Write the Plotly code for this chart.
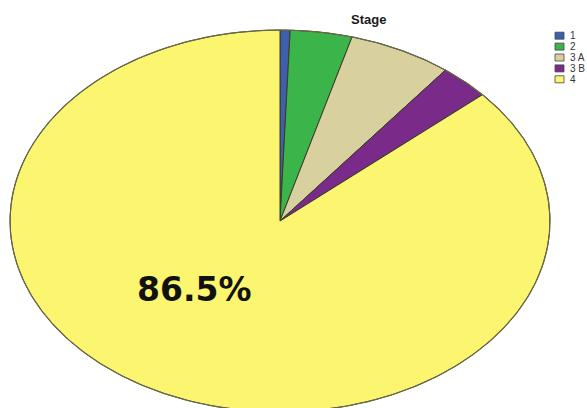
import numpy as np
import plotly.graph_objects as go

# Stage distribution (percent of cases)
stages = ["1", "2", "3 A", "3 B", "4"]
shares = [0.6, 3.7, 6.2, 3.0, 86.5]
colors = ["#3d5fae", "#3bb54a", "#d9d09f", "#7a2a88", "#fbf56f"]

W, H = 587, 408
CX, CY = 280, 221      # pie centre in pixels
RX, RY = 270, 191      # pie semi-axes in pixels

fig = go.Figure()

# Slices run clockwise from 12 o'clock; the pie is stretched horizontally,
# so unit-circle coordinates are drawn on unequal x/y scales.
total = sum(shares)
start = 0.0
for name, val, col in zip(stages, shares, colors):
    a0 = 2 * np.pi * start / total
    a1 = 2 * np.pi * (start + val) / total
    n = max(int(np.degrees(a1 - a0) * 2), 4)
    t = np.linspace(a0, a1, n)
    xs = np.concatenate([[0], np.sin(t), [0]])
    ys = np.concatenate([[0], np.cos(t), [0]])
    fig.add_trace(go.Scatter(
        x=xs, y=ys, mode="lines", fill="toself", fillcolor=col,
        line=dict(color="#3a3a2a", width=1), name=name,
        hoverinfo="name", showlegend=False,
    ))
    start += val

# Outer rim
t = np.linspace(0, 2 * np.pi, 721)
fig.add_trace(go.Scatter(x=np.sin(t), y=np.cos(t), mode="lines",
                         line=dict(color="#6a6a48", width=1.2),
                         hoverinfo="skip", showlegend=False))

# Axis ranges chosen so one data unit = RX px horizontally, RY px vertically
fig.update_xaxes(range=[-CX / RX, (W - CX) / RX], visible=False, fixedrange=True)
fig.update_yaxes(range=[-(H - CY) / RY, CY / RY], visible=False, fixedrange=True)

annotations = [
    dict(text="<b>Stage</b>", x=368 / W, y=1 - 19 / H, xref="paper", yref="paper",
         xanchor="center", yanchor="middle", showarrow=False,
         font=dict(family="Liberation Sans", size=13, color="#1a1a1a")),
    dict(text=f"<b>{shares[-1]:.1f}%</b>", x=194 / W, y=1 - 289 / H,
         xref="paper", yref="paper", xanchor="center", yanchor="middle",
         showarrow=False,
         font=dict(family="DejaVu Sans", size=33, color="#111111")),
]

# Compact legend: swatch + label per stage
shapes = []
for i, (name, col) in enumerate(zip(stages, colors)):
    yc = 35.7 + i * 10.9
    shapes.append(dict(type="rect", xref="paper", yref="paper",
                       x0=555 / W, x1=564 / W,
                       y0=1 - (yc + 3.5) / H, y1=1 - (yc - 3.5) / H,
                       fillcolor=col, line=dict(color="#444444", width=0.8)))
    annotations.append(dict(text=name, x=567.5 / W, y=1 - yc / H,
                            xref="paper", yref="paper", xanchor="left", yanchor="middle",
                            showarrow=False,
                            font=dict(family="Liberation Sans", size=10, color="#333333")))

fig.update_layout(
    width=W, height=H, margin=dict(l=0, r=0, t=0, b=0),
    paper_bgcolor="white", plot_bgcolor="white",
    annotations=annotations, shapes=shapes, showlegend=False,
)

fig.write_html("out.html")
